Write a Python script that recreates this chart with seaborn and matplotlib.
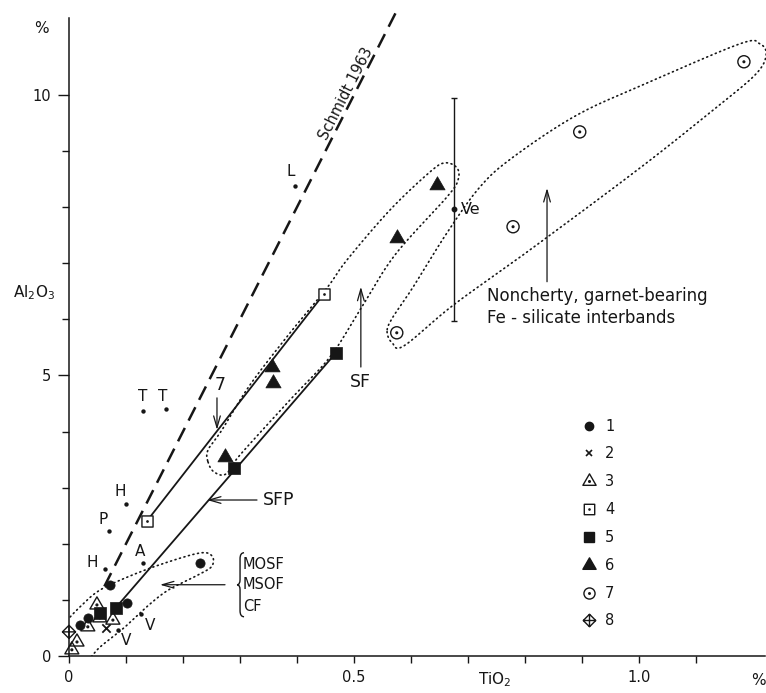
import numpy as np
import matplotlib
matplotlib.use("Agg")
import matplotlib.pyplot as plt
import seaborn as sns
from matplotlib.path import Path
from matplotlib.patches import PathPatch
from matplotlib.lines import Line2D
from matplotlib.transforms import Affine2D, ScaledTranslation

# ---------------------------------------------------------------
# TiO2 (x) and Al2O3 (y) contents in wt %, sample groups 1-8
# ---------------------------------------------------------------
g1_tio2 = [0.019, 0.033, 0.072, 0.102, 0.230]
g1_al2o3 = [0.55, 0.68, 1.27, 0.94, 1.66]

g2_tio2 = [0.065]
g2_al2o3 = [0.50]

g3_tio2 = [0.049, 0.033, 0.054, 0.077, 0.014, 0.005]
g3_al2o3 = [0.91, 0.52, 0.68, 0.64, 0.25, 0.11]

g4_tio2 = [0.137, 0.447]
g4_al2o3 = [2.41, 6.45]

g5_tio2 = [0.054, 0.082, 0.289, 0.468]
g5_al2o3 = [0.77, 0.86, 3.35, 5.40]

g6_tio2 = [0.274, 0.356, 0.358, 0.575, 0.646]
g6_al2o3 = [3.55, 5.15, 4.87, 7.45, 8.40]

g7_tio2 = [0.575, 0.779, 0.896, 1.184]
g7_al2o3 = [5.76, 7.65, 9.34, 10.59]

g8_tio2 = [0.0]
g8_al2o3 = [0.43]

legend_labels = ["1", "2", "3", "4", "5", "6", "7", "8"]

# literature reference analyses (small dots with letter codes)
ref_names = ["L", "T", "T", "H", "P", "H", "A", "V", "V"]
ref_tio2 = [0.396, 0.130, 0.170, 0.100, 0.070, 0.063, 0.130, 0.126, 0.086]
ref_al2o3 = [8.38, 4.37, 4.40, 2.71, 2.23, 1.55, 1.66, 0.75, 0.46]

# Ve: mean with range
ve_tio2 = [0.675]
ve_al2o3 = [7.96]
ve_range = [1.99]

# Schmidt (1963) Al2O3/TiO2 ratio line
schmidt_ratio = 20.0
schmidt_tio2 = [0.062, 0.579]

# enclosure outlines (TiO2, Al2O3) drawn as smooth closed loops
loop_fe_silicate = [(0.558, 5.78), (0.567, 5.58), (0.588, 5.53), (0.675, 6.26),
                    (0.809, 7.24), (1.002, 8.70), (1.130, 9.73), (1.204, 10.36),
                    (1.223, 10.71), (1.212, 10.91), (1.177, 10.91), (1.014, 10.21),
                    (0.891, 9.64), (0.779, 8.89), (0.721, 8.36), (0.663, 7.54),
                    (0.604, 6.58), (0.567, 6.02)]
loop_sf = [(0.2439, 3.458), (0.2544, 3.280), (0.2754, 3.244), (0.3000, 3.583),
           (0.3877, 4.563), (0.4579, 5.330), (0.5105, 6.168), (0.5719, 7.148),
           (0.6632, 8.182), (0.6825, 8.485), (0.6807, 8.699), (0.6596, 8.788),
           (0.6333, 8.627), (0.5632, 7.950), (0.4877, 7.059), (0.4526, 6.560),
           (0.3877, 5.758), (0.3175, 4.831), (0.2684, 4.029), (0.2439, 3.672)]
loop_mosf = [(-0.0246, 0.285), (-0.0053, 0.606), (0.0228, 0.909), (0.0544, 1.176),
             (0.1070, 1.426), (0.1684, 1.658), (0.2298, 1.836), (0.2509, 1.783),
             (0.2509, 1.604), (0.2298, 1.462), (0.1772, 1.194), (0.1421, 0.927),
             (0.0982, 0.517), (0.0544, 0.160), (0.0281, -0.107), (-0.0158, -0.214)]

# ---------------------------------------------------------------
sns.set_theme(style="ticks")
INK = "#161616"
plt.rcParams["font.family"] = ["DejaVu Sans"]
plt.rcParams["mathtext.fontset"] = "dejavusans"
plt.rcParams["text.color"] = INK

fig = plt.figure(figsize=(7.66, 6.93), dpi=100)
fig.patch.set_facecolor("white")
ax = fig.add_axes([69 / 766, 37 / 693, 696 / 766, 638 / 693])
ax.set_facecolor("white")
ax.set_xlim(0, 1.221)
ax.set_ylim(0, 11.37)
ax.set_autoscale_on(False)

for side in ("top", "right"):
    ax.spines[side].set_visible(False)
for side in ("left", "bottom"):
    ax.spines[side].set_linewidth(1.1)
    ax.spines[side].set_color(INK)

ax.set_xticks([0, 0.5, 1.0])
ax.set_xticklabels(["0", "0.5", "1.0"])
ax.set_xticks([0.1, 0.2, 0.3, 0.4, 0.6, 0.7, 0.8, 0.9, 1.1], minor=True)
ax.set_yticks([0, 5, 10])
ax.set_yticklabels(["0", "5", "10"])
ax.set_yticks([1, 2, 3, 4, 6, 7, 8, 9], minor=True)
ax.tick_params(axis="both", which="both", direction="out", color=INK, width=1.0,
               labelsize=10.5, labelcolor=INK)
ax.tick_params(axis="x", which="both", length=5, pad=5)
ax.tick_params(axis="y", which="major", length=8, pad=5)
ax.tick_params(axis="y", which="minor", length=5)
ax.set_xlabel("")
ax.set_ylabel("")

# axis captions
ax.text(-0.048, 11.19, "%", ha="center", va="center", fontsize=11)
ax.text(-0.061, 6.47, "Al$_2$O$_3$", ha="center", va="center", fontsize=11)
ax.text(0.747, -0.428, "TiO$_2$", ha="center", va="center", fontsize=11)
ax.text(1.209, -0.428, "%", ha="center", va="center", fontsize=11)


# ---------------------------------------------------------------
# helpers
def closed_spline(points, n=24):
    """Closed Catmull-Rom curve through points, computed in display space."""
    P = ax.transData.transform(np.asarray(points, float))
    N = len(P)
    t = np.linspace(0, 1, n, endpoint=False)[:, None]
    segs = []
    for i in range(N):
        p0, p1, p2, p3 = P[i - 1], P[i], P[(i + 1) % N], P[(i + 2) % N]
        segs.append(0.5 * (2 * p1 + (-p0 + p2) * t
                           + (2 * p0 - 5 * p1 + 4 * p2 - p3) * t ** 2
                           + (-p0 + 3 * p1 - 3 * p2 + p3) * t ** 3))
    out = np.vstack(segs + [segs[0][:1]])
    return ax.transData.inverted().transform(out)


def with_dot(outline, r=0.1):
    return Path.make_compound_path(outline, Path.circle((0, 0), r))


triangle = Path.unit_regular_polygon(3)
square = Path([(-1, -1), (1, -1), (1, 1), (-1, 1), (-1, -1)], closed=True)
circle = Path.circle((0, 0), 1.0)
diamond_cross = Path(
    [(0, 1), (1, 0), (0, -1), (-1, 0), (0, 1), (0, 1), (0, -1), (-1, 0), (1, 0)],
    [Path.MOVETO, Path.LINETO, Path.LINETO, Path.LINETO, Path.CLOSEPOLY,
     Path.MOVETO, Path.LINETO, Path.MOVETO, Path.LINETO])

tri_dot = with_dot(triangle, 0.11)
sq_dot = with_dot(square, 0.12)
circ_dot = with_dot(circle, 0.14)

# ---------------------------------------------------------------
# enclosures (dotted)
dot_style = dict(color=INK, lw=1.2, linestyle=(0, (0.6, 2.2)),
                 dash_capstyle="round", zorder=1)
for loop in (loop_fe_silicate, loop_sf):
    c = closed_spline(loop)
    ax.plot(c[:, 0], c[:, 1], clip_on=False, **dot_style)
c = closed_spline(loop_mosf)
ax.plot(c[:, 0], c[:, 1], clip_on=True, **dot_style)

# Schmidt 1963 line
sx = np.array(schmidt_tio2)
ax.plot(sx, schmidt_ratio * sx, color=INK, lw=1.8, linestyle=(0, (6.0, 3.3)),
        clip_on=False, zorder=2)
ax.text(0.486, 10.02, "Schmidt 1963", rotation=63, rotation_mode="anchor",
        ha="center", va="center", fontsize=10.5)

# group trend lines (7 and SFP)
sns.lineplot(x=[g4_tio2[0], g4_tio2[-1]], y=[g4_al2o3[0], g4_al2o3[-1]],
             color=INK, lw=1.3, ax=ax, zorder=2, sort=False)
sns.lineplot(x=[g5_tio2[1], g5_tio2[-1]], y=[g5_al2o3[1], g5_al2o3[-1]],
             color=INK, lw=1.3, ax=ax, zorder=2, sort=False)

# Ve with its range
ax.errorbar(ve_tio2, ve_al2o3, yerr=ve_range, fmt="o", ms=3.2, color=INK,
            ecolor=INK, elinewidth=1.0, capsize=2.3, capthick=1.0, zorder=3)
ax.annotate("Ve", xy=(ve_tio2[0], ve_al2o3[0]), xytext=(5, 0),
            textcoords="offset points", ha="left", va="center", fontsize=11.5)

# literature dots with codes
sns.scatterplot(x=ref_tio2, y=ref_al2o3, s=10, color=INK, edgecolor=INK,
                linewidth=0, ax=ax, zorder=3, legend=False)
ref_offsets = [(-3, 10), (0, 10), (-2, 9), (-4, 9), (-4, 8), (-9, 5),
               (-2, 8), (7, -8), (6, -7.5)]
for name, x, y, off in zip(ref_names, ref_tio2, ref_al2o3, ref_offsets):
    ax.annotate(name, xy=(x, y), xytext=off, textcoords="offset points",
                ha="center", va="center", fontsize=11)

# ---------------------------------------------------------------
# sample groups
common = dict(ax=ax, legend=False, clip_on=False, zorder=5)
sns.scatterplot(x=g1_tio2, y=g1_al2o3, marker="o", s=44, color=INK,
                edgecolor=INK, linewidth=0.5, **common)
sns.scatterplot(x=g2_tio2, y=g2_al2o3, marker="x", s=36, color=INK,
                linewidth=1.3, **common)
sns.scatterplot(x=g3_tio2, y=g3_al2o3, marker=tri_dot, s=135, color=INK,
                facecolor="none", edgecolor=INK, linewidth=1.0, **common)
sns.scatterplot(x=g4_tio2, y=g4_al2o3, marker=sq_dot, s=64, color=INK,
                facecolor="white", edgecolor=INK, linewidth=1.0, **common)
sns.scatterplot(x=g5_tio2, y=g5_al2o3, marker="s", s=74, color=INK,
                edgecolor=INK, linewidth=0.5, **common)
sns.scatterplot(x=g6_tio2, y=g6_al2o3, marker=triangle, s=160, color=INK,
                edgecolor=INK, linewidth=0.5, **common)
sns.scatterplot(x=g7_tio2, y=g7_al2o3, marker=circ_dot, s=76, color=INK,
                facecolor="none", edgecolor=INK, linewidth=1.0, **common)
sns.scatterplot(x=g8_tio2, y=g8_al2o3, marker=diamond_cross, s=90, color=INK,
                facecolor="none", edgecolor=INK, linewidth=1.0, **common)

# ---------------------------------------------------------------
# annotations
arrow = dict(arrowstyle="->,head_length=0.7,head_width=0.2", color=INK, lw=0.9,
             shrinkA=0, shrinkB=0)
ax.annotate("", xy=(0.2596, 4.03), xytext=(0.2596, 4.60), arrowprops=arrow)
ax.text(0.265, 4.83, "7", ha="center", va="center", fontsize=12.5)

ax.annotate("", xy=(0.2421, 2.78), xytext=(0.3298, 2.78), arrowprops=arrow)
ax.text(0.340, 2.78, "SFP", ha="left", va="center", fontsize=12.5)

ax.annotate("", xy=(0.512, 6.58), xytext=(0.512, 5.15), arrowprops=arrow)
ax.text(0.512, 4.88, "SF", ha="center", va="center", fontsize=12.5)

ax.annotate("", xy=(0.8386, 8.34), xytext=(0.8386, 6.67), arrowprops=arrow)
ax.text(0.7333, 6.42, "Noncherty, garnet-bearing", ha="left", va="center",
        fontsize=12)
ax.text(0.7333, 6.02, "Fe - silicate interbands", ha="left", va="center",
        fontsize=12)

ax.annotate("", xy=(0.1596, 1.27), xytext=(0.2737, 1.27), arrowprops=arrow)
for txt, yy in zip(["MOSF", "MSOF", "CF"], [1.63, 1.27, 0.89]):
    ax.text(0.305, yy, txt, ha="left", va="center", fontsize=10.5)

# curly brace grouping the three labels (drawn in pixels around its tip)
brace = Path([(7, 32), (3, 32), (3, 26), (3, 5), (3, 0), (0, 0), (3, 0), (3, -5),
              (3, -26), (3, -32), (7, -32)],
             [Path.MOVETO, Path.CURVE3, Path.CURVE3, Path.LINETO, Path.CURVE3,
              Path.CURVE3, Path.CURVE3, Path.CURVE3, Path.LINETO, Path.CURVE3,
              Path.CURVE3])
brace_tf = Affine2D() + ScaledTranslation(0.2948, 1.27, ax.transData)
ax.add_artist(PathPatch(brace, transform=brace_tf, fill=False, lw=1.0,
                        edgecolor=INK, clip_on=False))

# ---------------------------------------------------------------
# legend
handles = [
    Line2D([], [], ls="none", marker="o", ms=6.0, mfc=INK, mec=INK),
    Line2D([], [], ls="none", marker="x", ms=5.0, mec=INK, mew=1.2),
    Line2D([], [], ls="none", marker=tri_dot, ms=11, mfc="none", mec=INK, mew=1.0),
    Line2D([], [], ls="none", marker=sq_dot, ms=7.5, mfc="none", mec=INK, mew=1.0),
    Line2D([], [], ls="none", marker="s", ms=7.5, mfc=INK, mec=INK),
    Line2D([], [], ls="none", marker=triangle, ms=11, mfc=INK, mec=INK),
    Line2D([], [], ls="none", marker=circ_dot, ms=8, mfc="none", mec=INK, mew=1.0),
    Line2D([], [], ls="none", marker=diamond_cross, ms=9, mfc="none", mec=INK, mew=1.0),
]
ax.legend(handles, legend_labels, loc="upper left", bbox_to_anchor=(0.7366, 0.372),
          frameon=False, fontsize=10.5, handlelength=1.0, handletextpad=0.6,
          labelspacing=0.88, borderpad=0, borderaxespad=0)

fig.savefig("out.png", dpi=100, facecolor="white")
